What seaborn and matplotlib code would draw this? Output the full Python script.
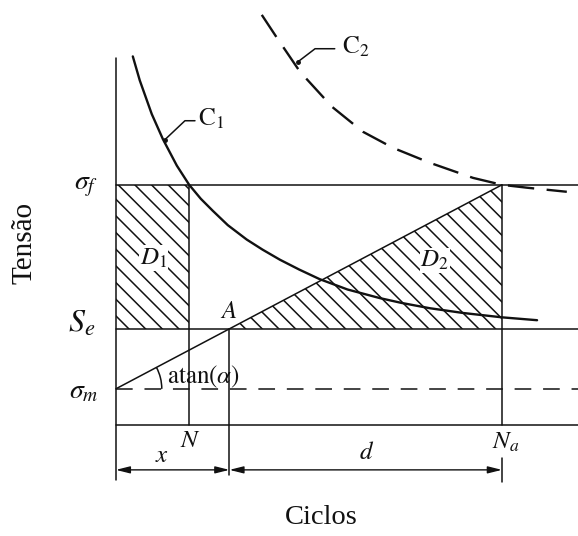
import numpy as np
import matplotlib
matplotlib.use("Agg")
import matplotlib.pyplot as plt
from matplotlib.patches import Arc
import seaborn as sns

# Reference levels (stress axis) and cycle marks
sigma_f = 10.0   # fatigue strength level
S_e = 4.0        # endurance limit
sigma_m = 1.5    # mean stress
N = 1.9          # cycles where C1 meets sigma_f
N_a = 10.0       # cycles where the ramp reaches sigma_f

# Curve C1 (solid S-N curve)
c1_cycles = [0.44, 0.62, 0.93, 1.22, 1.58, 1.9, 2.2, 2.51, 2.9, 3.39, 3.8,
             4.25, 4.75, 5.28, 6.0, 6.84, 7.4, 8.13, 9.0, 10.0, 10.91]
c1_stress = [15.35, 14.35, 12.95, 11.9, 10.8, 10.0, 9.42, 8.92, 8.32, 7.72, 7.3,
             6.88, 6.47, 6.07, 5.64, 5.28, 5.08, 4.86, 4.66, 4.48, 4.36]

# Curve C2 (dashed S-N curve)
c2_cycles = [3.78, 4.17, 4.77, 5.6, 6.4, 7.18, 8.13, 9.25, 10.0, 10.65, 11.68]
c2_stress = [17.08, 16.13, 14.71, 13.25, 12.21, 11.54, 10.92, 10.29, 10.0, 9.88, 9.71]

sns.set_theme(style="white")
plt.rcParams["mathtext.fontset"] = "stix"
plt.rcParams["hatch.linewidth"] = 1.1
plt.rcParams["lines.scale_dashes"] = False

ink = "#111111"
fig = plt.figure(figsize=(5.78, 5.36), dpi=100)
ax = fig.add_axes([0, 0, 1, 1])
x_lo, x_hi = -3.0, 11.97
ax.set_xlim(x_lo, x_hi)
ax.set_ylim(-4.63, 17.7)
ax.axis("off")

# ramp from (0, sigma_m) up to (N_a, sigma_f)
slope = (sigma_f - sigma_m) / N_a
A = (S_e - sigma_m) / slope
dim_y = -1.875

# hatched regions D1 and D2
ax.fill_between([0, N], [S_e, S_e], [sigma_f, sigma_f], facecolor="none",
                edgecolor=ink, hatch="\\\\", linewidth=0)
ax.fill_between([A, N_a], [S_e, S_e], [S_e, sigma_f], facecolor="none",
                edgecolor=ink, hatch="\\\\", linewidth=0)

lw = 1.1
# stress axis and horizontal levels
ax.plot([0, 0], [-2.3, 15.3], color=ink, lw=lw)
ax.plot([0, x_hi], [sigma_f, sigma_f], color=ink, lw=lw)
ax.plot([0, x_hi], [S_e, S_e], color=ink, lw=lw)
ax.plot([0, x_hi], [0, 0], color=ink, lw=lw)
ax.plot([0, x_hi], [sigma_m, sigma_m], color=ink, lw=lw, linestyle=(0, (12, 8.5)))

# verticals at N, A and N_a
ax.plot([N, N], [0, sigma_f], color=ink, lw=lw)
ax.plot([A, A], [-2.1, S_e], color=ink, lw=lw)
ax.plot([N_a, N_a], [0, sigma_f], color=ink, lw=lw)
ax.plot([N_a, N_a], [-1.375, -2.375], color=ink, lw=lw)

# ramp line
ax.plot([0, N_a], [sigma_m, sigma_f], color=ink, lw=lw)

# S-N curves
sns.lineplot(x=c1_cycles, y=c1_stress, ax=ax, color=ink, lw=1.7, sort=False)
sns.lineplot(x=c2_cycles, y=c2_stress, ax=ax, color=ink, lw=1.7, sort=False,
             linestyle=(0, (19, 9)))

# dimension arrows
arrow = dict(arrowstyle="<|-|>,head_length=0.6,head_width=0.15", color=ink,
             lw=1.0, shrinkA=0, shrinkB=0, mutation_scale=14)
ax.annotate("", xy=(A, dim_y), xytext=(0, dim_y), arrowprops=arrow)
ax.annotate("", xy=(N_a, dim_y), xytext=(A, dim_y), arrowprops=arrow)

# angle arc at the start of the ramp
ang = np.degrees(np.arctan(slope))
ax.add_patch(Arc((0, sigma_m), 2.38, 3.83, theta1=0, theta2=ang, color=ink, lw=1.1))

# curve leaders
ax.plot([1.27, 1.79, 2.05], [11.88, 12.67, 12.67], color=ink, lw=1.1)
ax.plot([1.27], [11.88], "o", color=ink, ms=2.5)
ax.plot([4.72, 5.16, 5.67], [15.13, 15.67, 15.67], color=ink, lw=1.1)
ax.plot([4.72], [15.13], "o", color=ink, ms=2.5)

mfs = 18
ax.text(2.12, 12.75, r"$\mathrm{C}_1$", fontsize=mfs, ha="left", va="center", color=ink)
ax.text(5.85, 15.75, r"$\mathrm{C}_2$", fontsize=mfs, ha="left", va="center", color=ink)

ax.text(-0.78, 10.0, r"$\sigma_f$", fontsize=20, ha="center", va="center", color=ink)
ax.text(-0.88, 4.25, r"$S_e$", fontsize=23, ha="center", va="center", color=ink)
ax.text(-0.83, 1.45, r"$\sigma_m$", fontsize=20, ha="center", va="center", color=ink)

ax.text(2.93, 4.75, r"$A$", fontsize=mfs, ha="center", va="center", color=ink)
ax.text(1.33, 1.98, r"$\mathrm{atan}(\alpha)$", fontsize=18, ha="left", va="center", color=ink)
ax.text(1.94, -0.62, r"$N$", fontsize=mfs, ha="center", va="center", color=ink)
ax.text(1.19, -1.25, r"$x$", fontsize=mfs, ha="center", va="center", color=ink)
ax.text(6.5, -1.15, r"$d$", fontsize=mfs, ha="center", va="center", color=ink)
ax.text(10.1, -0.72, r"$N_a$", fontsize=mfs, ha="center", va="center", color=ink)

box = dict(facecolor="white", edgecolor="none", pad=0.5)
ax.text(0.98, 6.96, r"$D_1$", fontsize=mfs, ha="center", va="center", color=ink, bbox=box)
ax.text(8.26, 6.85, r"$D_2$", fontsize=mfs, ha="center", va="center", color=ink, bbox=box)

serif = "Liberation Serif"
ax.text(-2.36, 7.58, "Tensão", fontsize=21, family=serif, rotation=90,
        ha="center", va="center", color=ink)
ax.text(5.31, -3.88, "Ciclos", fontsize=20.5, family=serif, ha="center", va="center", color=ink)

fig.savefig("out.png", dpi=100, facecolor="white")
